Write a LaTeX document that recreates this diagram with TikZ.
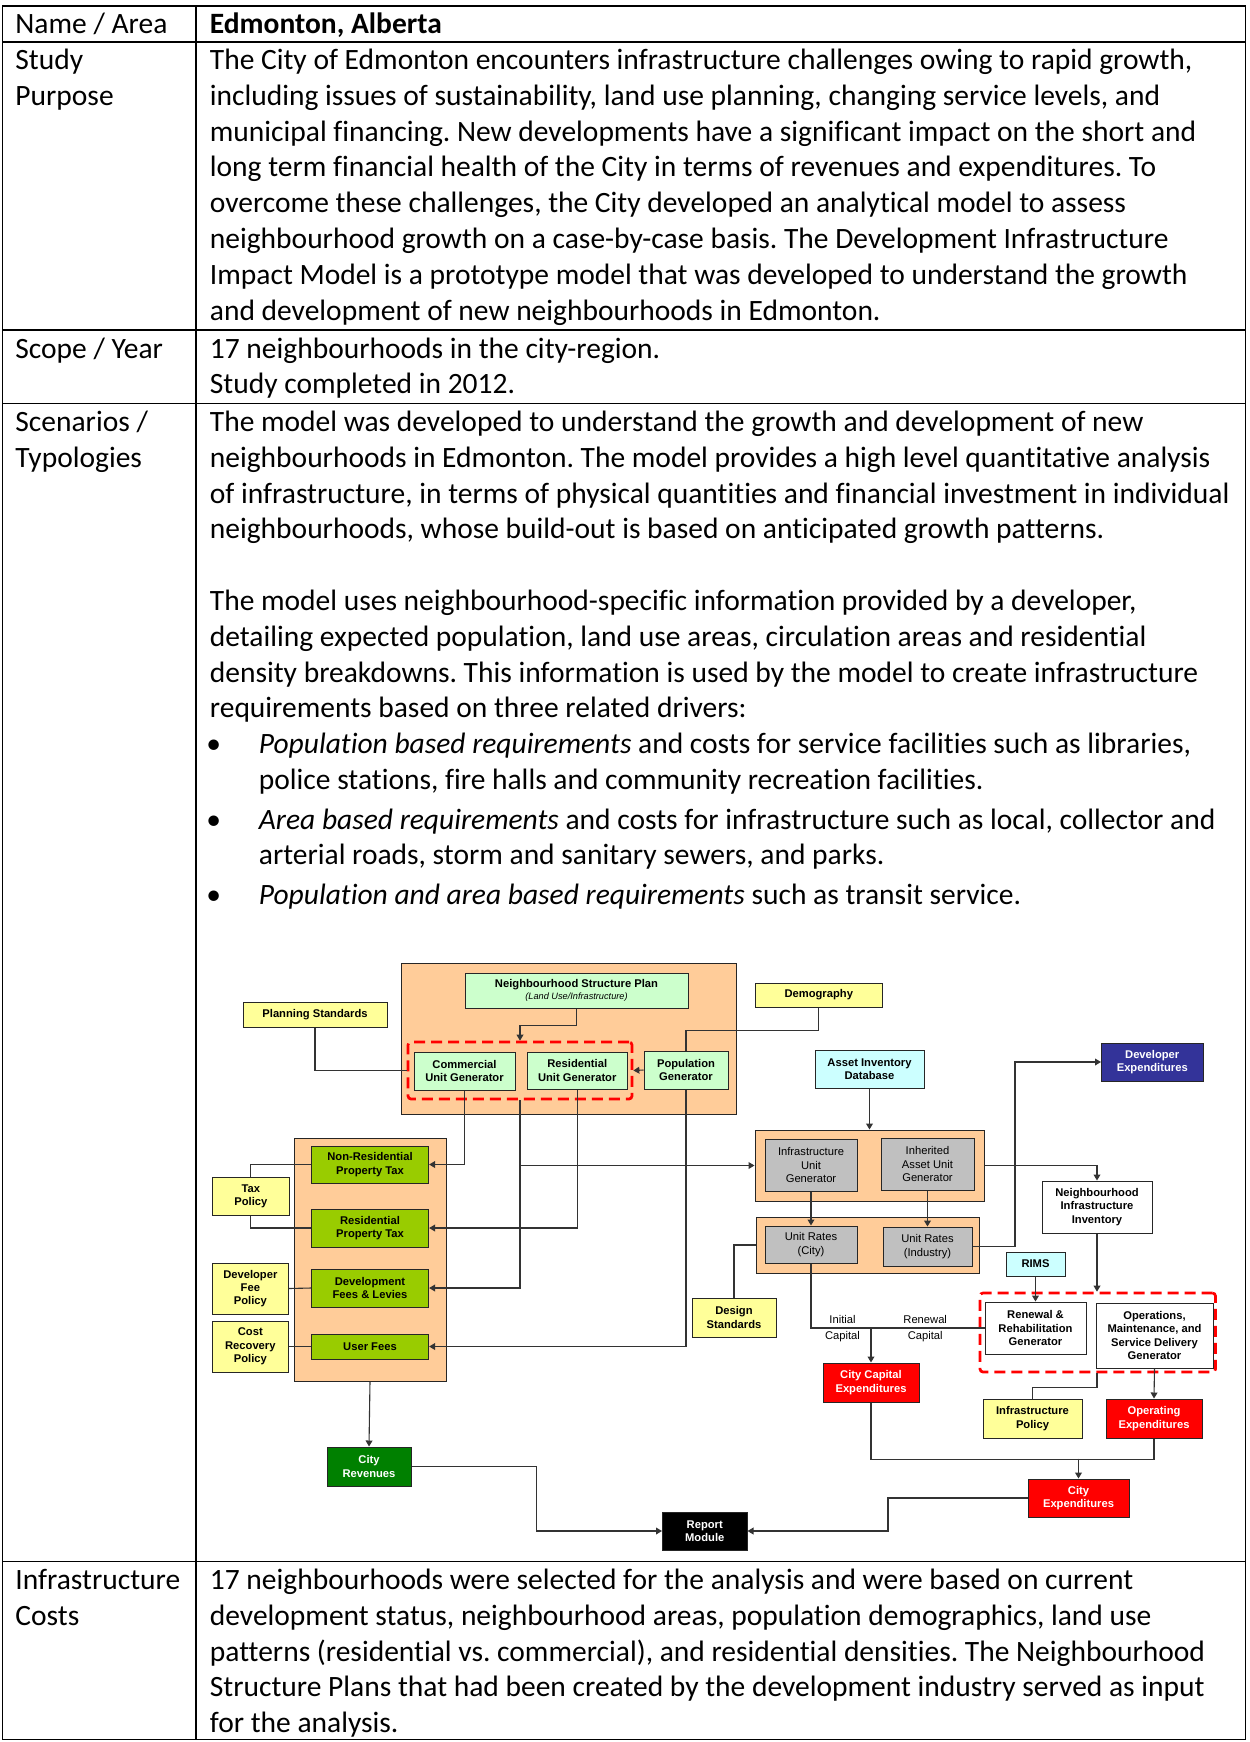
\documentclass[tikz,border=0pt]{standalone}
\usepackage{fontspec}
\setmainfont{Carlito}[Ligatures=NoCommon]
\newfontfamily\dgf{Liberation Sans}
\usetikzlibrary{arrows.meta,calc}
\definecolor{peach}{RGB}{255,204,153}
\definecolor{lgreen}{RGB}{204,255,204}
\definecolor{lyellow}{RGB}{255,255,153}
\definecolor{lcyan}{RGB}{204,255,255}
\definecolor{navyb}{RGB}{51,51,153}
\definecolor{ygreen}{RGB}{153,204,0}
\definecolor{dgreen}{RGB}{0,128,0}
\definecolor{lgray}{RGB}{192,192,192}
\definecolor{xred}{RGB}{255,0,0}
\newcommand{\mt}{\fontsize{14.75pt}{17.6pt}\selectfont}
\newcommand{\dt}{\dgf\fontsize{5.6pt}{6.65pt}\selectfont}
% box from corners: style, x1, y1, x2, y2, name  -> then {text};
\newcommand{\bxa}[6]{\node[#1,minimum width={(#4-#2)*0.5pt},minimum height={(#5-#3)*0.5pt}] (#6) at ({(#2+#4)/2},{(#3+#5)/2})}
\frenchspacing
\begin{document}
\begin{tikzpicture}[x=0.5pt,y=-0.5pt,
 tx/.style={anchor=base west,inner sep=0pt,font=\mt},
 bx/.style={draw=black!85,line width=0.5pt,inner sep=0pt,align=center,font=\dt\bfseries},
 gbx/.style={bx,fill=lgray,font=\dt},
 grp/.style={draw=black!85,line width=0.5pt,fill=peach,inner sep=0pt},
 rdash/.style={draw=xred,line width=1.35pt,dash pattern=on 5.5pt off 3pt,rounded corners=1.5pt,inner sep=0pt},
 cn/.style={draw=black!80,line width=0.55pt},
 arr/.style={cn,-{Triangle[length=3pt,width=3.4pt]}},
 lbl/.style={inner sep=0pt,align=center,font=\dt}
]
\useasboundingbox (0,0) rectangle (1249,1742);
\fill[white] (0,0) rectangle (1249,1742);
% table
\draw[line width=0.85pt] (2.5,5.7) rectangle (1245.5,1739.5);
\draw[line width=0.85pt] (196,5.7) -- (196,1739.5);
\draw[line width=0.85pt] (2.5,42) -- (1245.5,42);
\draw[line width=0.85pt] (2.5,330) -- (1245.5,330);
\draw[line width=0.85pt] (2.5,403.5) -- (1245.5,403.5);
\draw[line width=0.85pt] (2.5,1561.5) -- (1245.5,1561.5);
% left column
\node[tx] (l1) at (15,33.5) {Name / Area};
\node[tx] (l2) at (15,69.5) {Study};
\node[tx] (l3) at (15,105.3) {Purpose};
\node[tx] (l4) at (15,358) {Scope / Year};
\node[tx] (l5) at (15,431.5) {Scenarios /};
\node[tx] (l6) at (15,467.3) {Typologies};
\node[tx] (l7) at (15,1589.5) {Infrastructure};
\node[tx] (l8) at (15,1625.3) {Costs};
% right column
\node[tx] (r1) at (209.5,33.5) {\bfseries Edmonton, Alberta};
\node[tx] (r2) at (209.5,69.5) {The City of Edmonton encounters infrastructure challenges owing to rapid growth,};
\node[tx] (r3) at (209.5,105.3) {including issues of sustainability, land use planning, changing service levels, and};
\node[tx] (r4) at (209.5,141.1) {municipal financing. New developments have a significant impact on the short and};
\node[tx] (r5) at (209.5,176.9) {long term financial health of the City in terms of revenues and expenditures. To};
\node[tx] (r6) at (209.5,212.7) {overcome these challenges, the City developed an analytical model to assess};
\node[tx] (r7) at (209.5,248.5) {neighbourhood growth on a case-by-case basis. The Development Infrastructure};
\node[tx] (r8) at (209.5,284.3) {Impact Model is a prototype model that was developed to understand the growth};
\node[tx] (r9) at (209.5,320.1) {and development of new neighbourhoods in Edmonton.};
\node[tx] (r10) at (209.5,358) {17 neighbourhoods in the city-region.};
\node[tx] (r11) at (209.5,393.8) {Study completed in 2012.};
\node[tx] (r12) at (209.5,431.5) {The model was developed to understand the growth and development of new};
\node[tx] (r13) at (209.5,467.3) {neighbourhoods in Edmonton. The model provides a high level quantitative analysis};
\node[tx] (r14) at (209.5,503.1) {of infrastructure, in terms of physical quantities and financial investment in individual};
\node[tx] (r15) at (209.5,538.9) {neighbourhoods, whose build-out is based on anticipated growth patterns.};
\node[tx] (r16) at (209.5,610.5) {The model uses neighbourhood-specific information provided by a developer,};
\node[tx] (r17) at (209.5,646.3) {detailing expected population, land use areas, circulation areas and residential};
\node[tx] (r18) at (209.5,682.1) {density breakdowns. This information is used by the model to create infrastructure};
\node[tx] (r19) at (209.5,717.9) {requirements based on three related drivers:};
\node[tx] (b1) at (206,753.7) {•};
\node[tx] (r20) at (258.5,753.7) {\itshape Population based requirements\upshape{} and costs for service facilities such as libraries,};
\node[tx] (r21) at (258.5,789.5) {police stations, fire halls and community recreation facilities.};
\node[tx] (b2) at (206,829) {•};
\node[tx] (r22) at (258.5,829) {\itshape Area based requirements\upshape{} and costs for infrastructure such as local, collector and};
\node[tx] (r23) at (258.5,864.8) {arterial roads, storm and sanitary sewers, and parks.};
\node[tx] (b3) at (206,904.5) {•};
\node[tx] (r24) at (258.5,904.5) {\itshape Population and area based requirements\upshape{} such as transit service.};
\node[tx] (r25) at (209.5,1589.5) {17 neighbourhoods were selected for the analysis and were based on current};
\node[tx] (r26) at (209.5,1625.3) {development status, neighbourhood areas, population demographics, land use};
\node[tx] (r27) at (209.5,1661.1) {patterns (residential vs. commercial), and residential densities. The Neighbourhood};
\node[tx] (r28) at (209.5,1696.9) {Structure Plans that had been created by the development industry served as input};
\node[tx] (r29) at (209.5,1732.7) {for the analysis.};
% ---------------- diagram ----------------
% groups
\bxa{grp}{401}{963}{736}{1114}{nspg} {};
\bxa{grp}{294}{1138}{446}{1381}{revg} {};
\bxa{grp}{755}{1130}{984}{1201}{infg} {};
\bxa{grp}{756}{1217}{979}{1273}{urg} {};
% dashed
\bxa{rdash}{408}{1042}{632}{1099}{dash1} {};
\bxa{rdash}{980}{1293}{1215.5}{1372}{dash2} {};
% boxes
\bxa{bx,fill=lgreen}{465}{973}{688}{1008}{nsp} {Neighbourhood Structure Plan\\[-0.5pt]{\dgf\fontsize{4.6pt}{5pt}\selectfont\mdseries\itshape (Land Use/Infrastructure)}};
\bxa{bx,fill=lyellow}{243}{1002}{387}{1027}{ps} {Planning Standards};
\bxa{bx,fill=lgreen}{414}{1052}{515}{1090}{cug} {Commercial\\Unit Generator};
\bxa{bx,fill=lgreen}{527}{1052}{627.5}{1089}{rug} {Residential\\Unit Generator};
\bxa{bx,fill=lgreen}{644}{1051}{728}{1089}{pop} {Population\\Generator};
\bxa{bx,fill=lyellow}{755}{983}{882.5}{1007}{demo} {Demography};
\bxa{bx,fill=lcyan}{815}{1050}{924}{1088}{aid} {Asset Inventory\\Database};
\bxa{bx,fill=navyb,text=white}{1101.5}{1043}{1203}{1081}{devexp} {Developer\\Expenditures};
\bxa{gbx}{765}{1139}{857}{1191}{iug} {Infrastructure\\Unit\\Generator};
\bxa{gbx}{881}{1138}{974}{1190}{iaug} {Inherited\\Asset Unit\\Generator};
\bxa{bx,fill=white}{1042}{1181}{1152}{1233}{nii} {Neighbourhood\\Infrastructure\\Inventory};
\bxa{gbx}{765}{1226}{857}{1263}{urc} {Unit Rates\\(City)};
\bxa{gbx}{883}{1227}{972}{1266}{uri} {Unit Rates\\(Industry)};
\bxa{bx,fill=lyellow}{692}{1298}{776}{1337}{ds} {Design\\Standards};
\bxa{bx,fill=lcyan}{1006}{1252}{1065}{1276}{rims} {RIMS};
\bxa{bx,fill=white}{985}{1302}{1086}{1354}{rrg} {Renewal \&\\Rehabilitation\\Generator};
\bxa{bx,fill=white}{1096}{1303}{1213}{1368}{omsd} {Operations,\\Maintenance, and\\Service Delivery\\Generator};
\bxa{bx,fill=xred,text=white}{823}{1363}{919}{1402}{cce} {City Capital\\Expenditures};
\bxa{bx,fill=lyellow}{983}{1399}{1082}{1438}{ip} {Infrastructure\\Policy};
\bxa{bx,fill=xred,text=white}{1106}{1399}{1202}{1438}{oe} {Operating\\Expenditures};
\bxa{bx,fill=xred,text=white}{1028}{1479}{1129}{1517}{ce} {City\\Expenditures};
\bxa{bx,fill=black,text=white}{662.5}{1512}{747}{1550}{rm} {Report\\Module};
\bxa{bx,fill=dgreen,text=white}{327}{1447}{411}{1486}{cr} {City\\Revenues};
\bxa{bx,fill=ygreen}{311.4}{1146}{428.6}{1183}{nrpt} {Non-Residential\\Property Tax};
\bxa{bx,fill=ygreen}{311.4}{1209}{428.6}{1247}{rpt} {Residential\\Property Tax};
\bxa{bx,fill=ygreen}{311.4}{1269}{428.6}{1307}{dfl} {Development\\Fees \& Levies};
\bxa{bx,fill=ygreen}{311.4}{1334}{428.6}{1359}{uf} {User Fees};
\bxa{bx,fill=lyellow}{212.5}{1177}{289.3}{1215}{tp} {Tax\\Policy};
\bxa{bx,fill=lyellow}{212.5}{1263}{288.2}{1314}{dfp} {Developer\\Fee\\Policy};
\bxa{bx,fill=lyellow}{212.5}{1321}{288.2}{1372}{crp} {Cost\\Recovery\\Policy};
% labels
\node[lbl] (lic) at (842.5,1328.5) {Initial\\[1pt]Capital};
\node[lbl] (lrc) at (925.2,1328.5) {Renewal\\[1pt]Capital};
% connectors
\draw[arr] (nsp.south) -- ++(0,17) -| (dash1.north);
\draw[cn] (ps.south) |- (dash1.west);
\draw[arr] (pop.west) -- (dash1.east);
\draw[cn] (demo.south) -- ++(0,23) -| (pop.north);
\draw[arr] (cug.south) |- (nrpt.east);
\draw[arr] (rug.south) |- (rpt.east);
\draw[arr] (dash1.south) |- (dfl.east);
\draw[arr] (pop.south) |- (uf.east);
\draw[arr] (dash1.south |- infg.west) -- (infg.west);
\draw[arr] (aid.south) -- (aid.south |- infg.north);
\draw[arr] (infg.east) -| (nii.north);
\draw[arr] (iug.south) -- (urc.north);
\draw[arr] (iaug.south) -- (uri.north);
\draw[arr] (uri.east) -| ($(devexp.west)+(-86,0)$) -- (devexp.west);
\draw[cn] (ds.north) |- (urg.west);
\draw[cn] (urc.south) |- (rrg.west);
\draw[arr] (cce.north |- rrg.west) -- (cce.north);
\draw[arr] (rims.south) -- (rims.south |- rrg.north);
\draw[arr] (nii.south) -- (nii.south |- dash2.north);
\draw[cn] (nii.south |- dash2.south) -- ++(0,14) -| (ip.north);
\draw[arr] (omsd.south) -- (oe.north);
\draw[cn] (cce.south) -- ++(0,57) -| (oe.south);
\draw[arr] ($(ce.north)+(0,-20)$) -- (ce.north);
\draw[arr] (ce.west) -| ($(rm.east)+(140.5,0)$) -- (rm.east);
\draw[arr] (revg.south) -- (cr.north);
\draw[arr] (cr.east) -| ($(rm.west)+(-125.7,0)$) -- (rm.west);
\draw[cn] (tp.north) |- (nrpt.west);
\draw[cn] (tp.south) |- (rpt.west);
\draw[cn] (dfp.east) -- (dfl.west);
\draw[cn] (crp.east) -- (uf.west);
\end{tikzpicture}
\end{document}
